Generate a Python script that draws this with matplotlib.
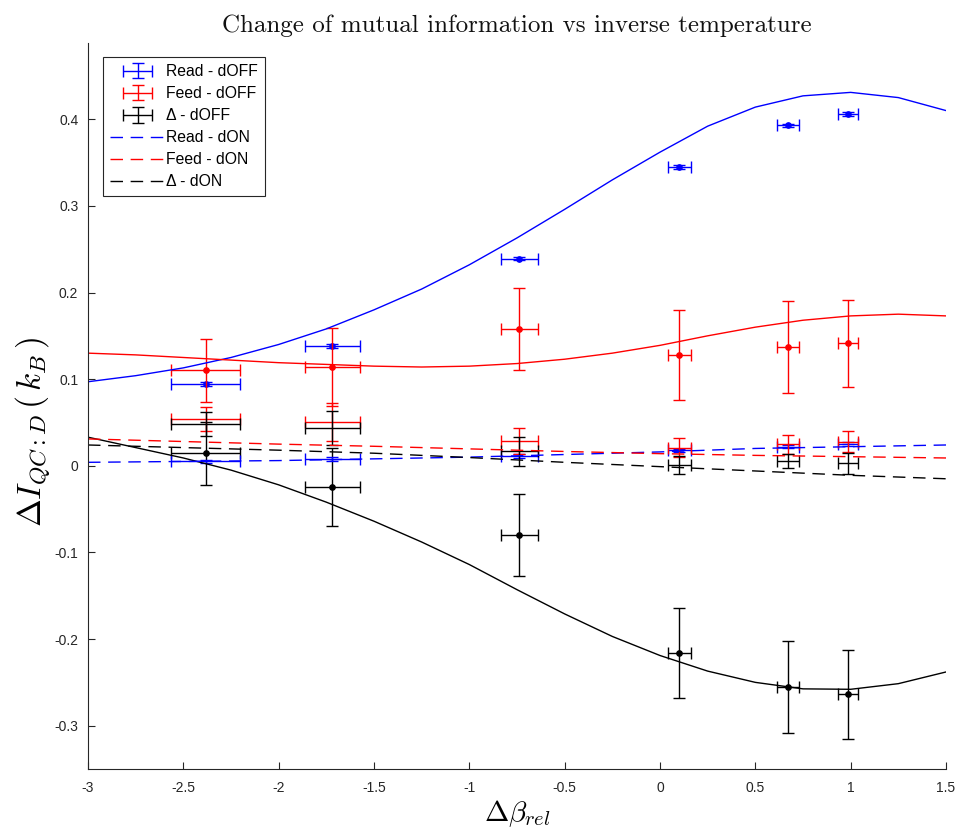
import numpy as np
import matplotlib
matplotlib.use("Agg")
import matplotlib.pyplot as plt
from matplotlib.legend_handler import HandlerErrorbar

plt.rcParams['mathtext.fontset'] = 'cm'
plt.rcParams['font.family'] = ['Liberation Sans', 'DejaVu Sans']

# ---------------- data ----------------
x_pts = [-2.383, -1.719, -0.738, 0.101, 0.672, 0.985]
x_err = [0.18, 0.145, 0.097, 0.061, 0.058, 0.053]

read_off = [0.0946, 0.138, 0.239, 0.345, 0.393, 0.406]
read_off_err = [0.002, 0.002, 0.002, 0.002, 0.002, 0.002]
feed_off = [0.110, 0.114, 0.158, 0.128, 0.137, 0.1415]
feed_off_err = [0.036, 0.045, 0.047, 0.052, 0.053, 0.050]
delta_off = [0.0142, -0.0246, -0.080, -0.216, -0.2557, -0.264]
delta_off_err = [0.036, 0.045, 0.047, 0.052, 0.053, 0.051]

read_on = [0.005, 0.008, 0.0115, 0.0177, 0.022, 0.025]
read_on_err = [0.002, 0.002, 0.002, 0.002, 0.002, 0.002]
feed_on = [0.054, 0.051, 0.029, 0.021, 0.025, 0.0277]
feed_on_err = [0.014, 0.022, 0.015, 0.011, 0.011, 0.012]
delta_on = [0.048, 0.0435, 0.0165, 0.001, 0.0054, 0.0027]
delta_on_err = [0.014, 0.020, 0.017, 0.0104, 0.008, 0.012]

# fitted curves
x_fit = [-3.0, -2.75, -2.5, -2.25, -2.0, -1.75, -1.5, -1.25, -1.0, -0.75,
         -0.5, -0.25, 0.0, 0.25, 0.5, 0.75, 1.0, 1.25, 1.5]
read_fit_off = [0.097, 0.104, 0.113, 0.125, 0.140, 0.158, 0.180, 0.204, 0.232, 0.263,
                0.296, 0.330, 0.362, 0.392, 0.414, 0.427, 0.431, 0.425, 0.410]
feed_fit_off = [0.130, 0.128, 0.125, 0.122, 0.119, 0.117, 0.115, 0.114, 0.115, 0.118,
                0.123, 0.130, 0.139, 0.150, 0.160, 0.168, 0.173, 0.175, 0.173]
delta_fit_off = [0.033, 0.021, 0.009, -0.005, -0.022, -0.042, -0.064, -0.088, -0.114, -0.143,
                 -0.171, -0.197, -0.219, -0.237, -0.250, -0.2575, -0.258, -0.2515, -0.238]

x_fit_on = [-3.0, -2.5, -2.0, -1.5, -1.0, -0.5, 0.0, 0.5, 1.0, 1.5]
read_fit_on = [0.004, 0.005, 0.006, 0.008, 0.010, 0.013, 0.016, 0.020, 0.022, 0.024]
feed_fit_on = [0.031, 0.028, 0.025, 0.0225, 0.0195, 0.0165, 0.014, 0.012, 0.0105, 0.009]
delta_fit_on = [0.024, 0.021, 0.018, 0.0145, 0.0095, 0.004, -0.001, -0.006, -0.011, -0.015]

x_ticks = [-3, -2.5, -2, -1.5, -1, -0.5, 0, 0.5, 1, 1.5]
x_tick_labels = ['-3', '-2.5', '-2', '-1.5', '-1', '-0.5', '0', '0.5', '1', '1.5']
y_ticks = [-0.3, -0.2, -0.1, 0, 0.1, 0.2, 0.3, 0.4]
y_tick_labels = ['-0.3', '-0.2', '-0.1', '0', '0.1', '0.2', '0.3', '0.4']

labels_off = ['Read - dOFF', 'Feed - dOFF', '\u0394 - dOFF']
labels_on = ['Read - dON', 'Feed - dON', '\u0394 - dON']
colors = ['#0000ff', '#ff0000', '#000000']

# ---------------- figure ----------------
W, H = 963, 836
fig = plt.figure(figsize=(W / 100, H / 100), dpi=100)
ax = fig.add_axes([88 / W, (H - 769) / H, (946 - 88) / W, (769 - 43) / H])

eb_kw = dict(fmt='none', capsize=4, elinewidth=1.0, capthick=1.0)

handles_off = []
for y, ye, c, lab in zip([read_off, feed_off, delta_off],
                         [read_off_err, feed_off_err, delta_off_err], colors, labels_off):
    h = ax.errorbar(x_pts, y, yerr=ye, xerr=x_err, ecolor=c, label=lab, **eb_kw)
    ax.plot(x_pts, y, 'o', color=c, ms=4, mfc=c, mew=0.8)
    handles_off.append(h)

for y, ye, c in zip([read_on, feed_on, delta_on],
                    [read_on_err, feed_on_err, delta_on_err], colors):
    ax.errorbar(x_pts, y, yerr=ye, xerr=x_err, ecolor=c, **eb_kw)

for y, c in zip([read_fit_off, feed_fit_off, delta_fit_off], colors):
    ax.plot(x_fit, y, '-', color=c, lw=1.0)

handles_on = []
for y, c, lab in zip([read_fit_on, feed_fit_on, delta_fit_on], colors, labels_on):
    l, = ax.plot(x_fit_on, y, '--', color=c, lw=1.0, dashes=(9.0, 5.5), label=lab)
    handles_on.append(l)

ax.set_xlim(-3, 1.5)
ax.set_ylim(-0.35, 0.488)
ax.set_xticks(x_ticks)
ax.set_xticklabels(x_tick_labels)
ax.set_yticks(y_ticks)
ax.set_yticklabels(y_tick_labels)
ax.tick_params(direction='in', length=5, width=0.8, labelsize=10,
               colors='#262626', labelcolor='#262626')
ax.tick_params(axis='x', pad=9)
ax.tick_params(axis='y', pad=7)
for s in ['top', 'right']:
    ax.spines[s].set_visible(False)
for s in ['left', 'bottom']:
    ax.spines[s].set_color('#262626')
    ax.spines[s].set_linewidth(0.8)

ax.set_title('Change of mutual information vs inverse temperature',
             fontfamily='cmr10', fontsize=18, pad=8, color='#111111')
ax.set_xlabel(r'$\Delta\beta_{rel}$', fontsize=21, labelpad=2)
ax.set_ylabel(r'$\Delta I_{QC:D}\,(\,k_B\,)$', fontsize=24)
ax.yaxis.set_label_coords(-0.042, 0.464)

leg = ax.legend(handles_off + handles_on, labels_off + labels_on,
                loc='upper left', bbox_to_anchor=((103 - 88) / 858, (769 - 57) / 726),
                borderaxespad=0, fancybox=False, framealpha=1, edgecolor='#262626',
                fontsize=11.3, handlelength=3.5, handletextpad=0.05, labelspacing=0.45,
                borderpad=0.45,
                handler_map={type(handles_off[0]): HandlerErrorbar(xerr_size=0.9, yerr_size=0.5)})
leg.get_frame().set_linewidth(0.8)

fig.savefig('out.png', dpi=100)
